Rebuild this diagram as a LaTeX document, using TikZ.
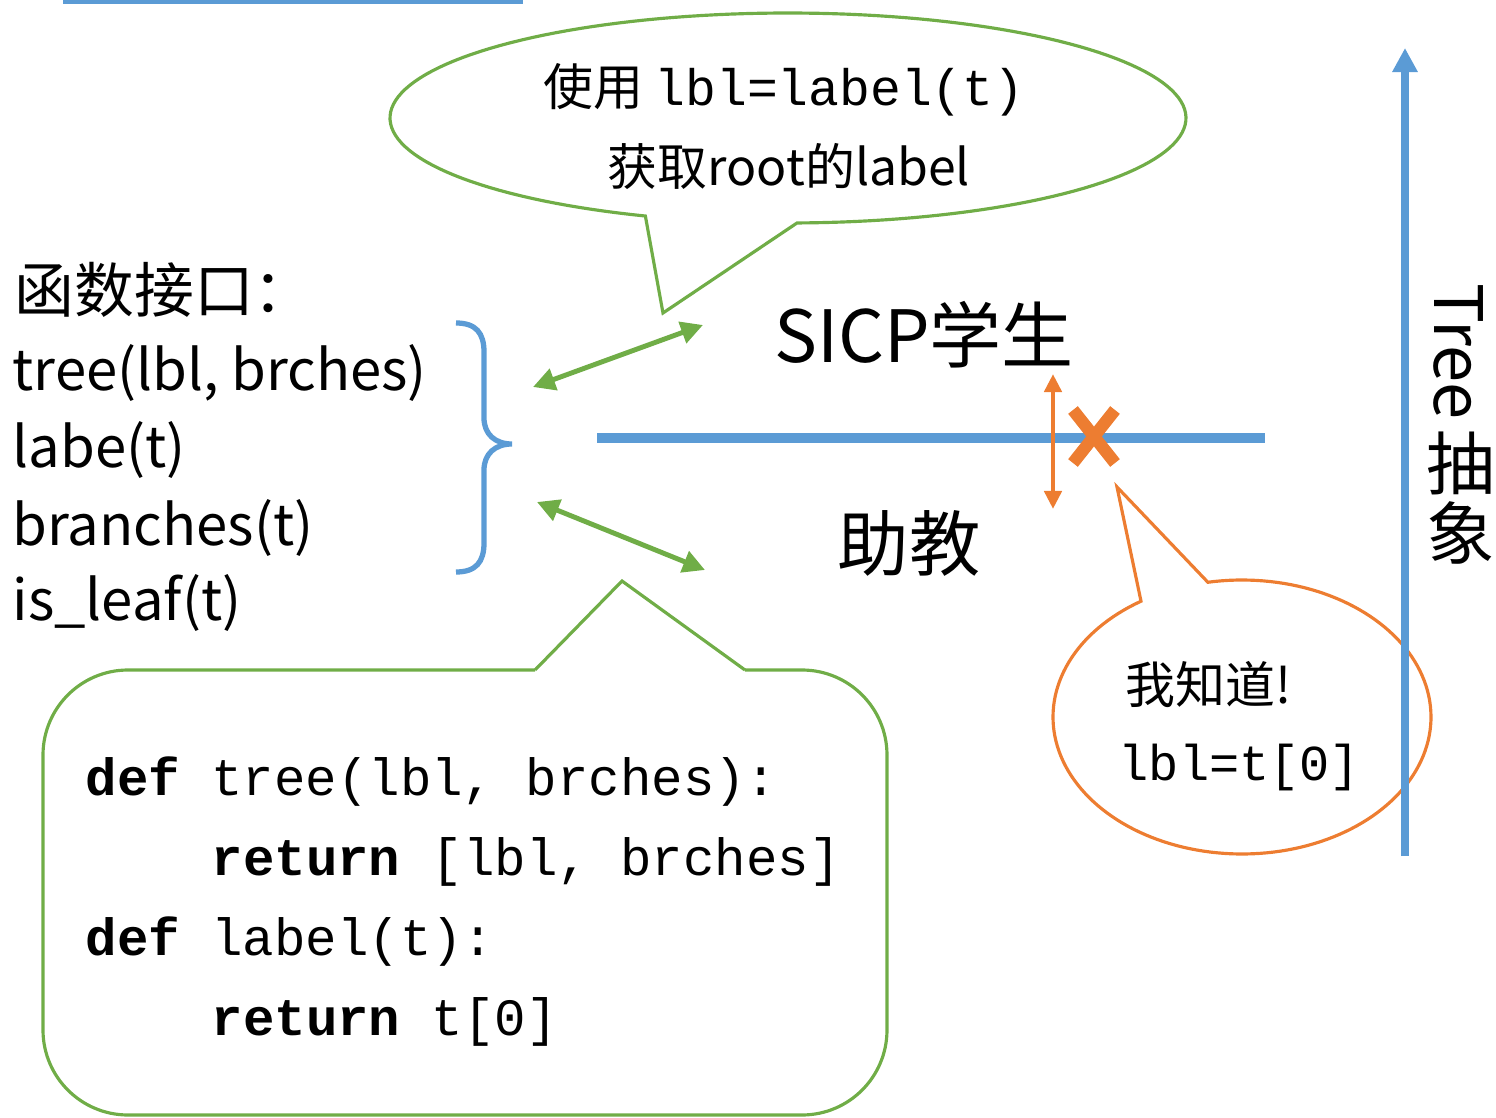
\documentclass[tikz,border=0pt]{standalone}
\usepackage{fontspec}
\setmainfont{Noto Sans CJK SC}
\setmonofont{Liberation Mono}
\usetikzlibrary{arrows.meta}
\definecolor{cgreen}{HTML}{70AD47}
\definecolor{cblue}{HTML}{5B9BD5}
\definecolor{corange}{HTML}{ED7D31}
\tikzset{
  txt/.style={inner sep=0pt, anchor=base west},
  ctxt/.style={inner sep=0pt, anchor=base},
  bubble/.style={line width=0.9pt},
  garrow/.style={cgreen, line width=1.4pt, {Triangle[length=0.22cm,width=0.22cm]}-{Triangle[length=0.22cm,width=0.22cm]}},
  oarrow/.style={corange, line width=1.4pt, {Triangle[length=0.18cm,width=0.17cm]}-{Triangle[length=0.18cm,width=0.17cm]}},
}
\newcommand{\fs}[1]{\fontsize{#1}{1.2\dimexpr #1\relax}\selectfont}
\begin{document}
\begin{tikzpicture}[x=0.01cm, y=-0.01cm]
\useasboundingbox (0,0) rectangle (1496,1118);

% top rule
\draw[cblue, line width=1.2pt] (63,1.5) -- (523,1.5);

% green speech bubble (top)
\draw[cgreen, bubble] plot[domain=111:448.7, samples=160] ({788+398*cos(\x)},{118+105*sin(\x)})
  -- (663,313) -- cycle;
\node[ctxt] (b1) at (784,105) {\fs{14.2pt}使用 \ttfamily\fs{14.6pt}lbl=label(t)};
\node[ctxt] (b2) at (789,185) {\fs{14.2pt}获取root的label};

% interface list
\node[txt] (title) at (14,312) {\fs{17pt}函数接口：};
\node[txt] (f1) at (12,390) {\fs{16pt}tree(lbl, brches)};
\node[txt] (f2) at (12,467) {\fs{16pt}labe(t)};
\node[txt] (f3) at (12,545) {\fs{16pt}branches(t)};
\node[txt] (f4) at (12,620) {\fs{16pt}is\_leaf(t)};

% brace
\draw[cblue, line width=1.5pt] (456,323) .. controls (476,323) and (484,333) .. (484,352)
  -- (484,418) .. controls (484,434) and (495,444) .. (512,444)
  .. controls (495,444) and (484,454) .. (484,470)
  -- (484,543) .. controls (484,562) and (476,572) .. (456,572);

% layer labels
\node[ctxt] (stu) at (924,362) {\fs{20.5pt}SICP学生};
\node[ctxt] (ta) at (909,570) {\fs{20.3pt}助教};

% arrows between interface and layers
\coordinate (g1a) at (533,387);
\coordinate (g1b) at (703,325);
\coordinate (g2a) at (537,502);
\coordinate (g2b) at (705,570);
\draw[garrow] (g1a) -- (g1b);
\draw[garrow] (g2a) -- (g2b);

% abstraction barrier
\coordinate (barL) at (597,438);
\coordinate (barR) at (1265,438);
\draw[cblue, line width=2.9pt] (barL) -- (barR);

% crossing arrow and cross
\coordinate (oa) at (1053,374);
\coordinate (ob) at (1053,509);
\draw[oarrow] (oa) -- (ob);
\draw[corange, line width=3.5pt] (1073,410) -- (1115,463);
\draw[corange, line width=3.5pt] (1115,410) -- (1073,463);

% orange speech bubble
\draw[corange, bubble] plot[domain=-100.4:237.7, samples=160] ({1242+189*cos(\x)},{717+137*sin(\x)})
  -- (1117,487) -- cycle;
\node[txt] (o1) at (1125,703) {\fs{14.2pt}我知道!};
\node[txt] (o2) at (1118,780) {\ttfamily\fs{14.3pt}lbl=t[0]};

% vertical abstraction arrow with its label set vertically
\coordinate (vb) at (1405,856);
\coordinate (vt) at (1405,48);
\draw[cblue, line width=2pt, -{Triangle[length=0.24cm,width=0.24cm]}] (vb) -- (vt);
\node[txt, rotate=-90] (tree) at (1434,283) {\fs{19pt}Tree};
\node[inner sep=0pt] (chou) at (1461,463) {\fs{19.5pt}抽};
\node[inner sep=0pt] (xiang) at (1461,533) {\fs{19.5pt}象};

% code callout
\draw[cgreen, bubble] (535,670) -- (622,581) -- (745,670);
\draw[cgreen, bubble, rounded corners=0.85cm] (745,670) -- (887,670) -- (887,1115) -- (43,1115) -- (43,670) -- (535,670);
\node[txt] (c1) at (85,795) {\ttfamily\fs{14.9pt}\textbf{def} tree(lbl, brches):};
\node[txt] (c2) at (211,875) {\ttfamily\fs{14.9pt}\textbf{return} [lbl, brches]};
\node[txt] (c3) at (85,955) {\ttfamily\fs{14.9pt}\textbf{def} label(t):};
\node[txt] (c4) at (211,1035) {\ttfamily\fs{14.9pt}\textbf{return} t[0]};
\end{tikzpicture}
\end{document}
